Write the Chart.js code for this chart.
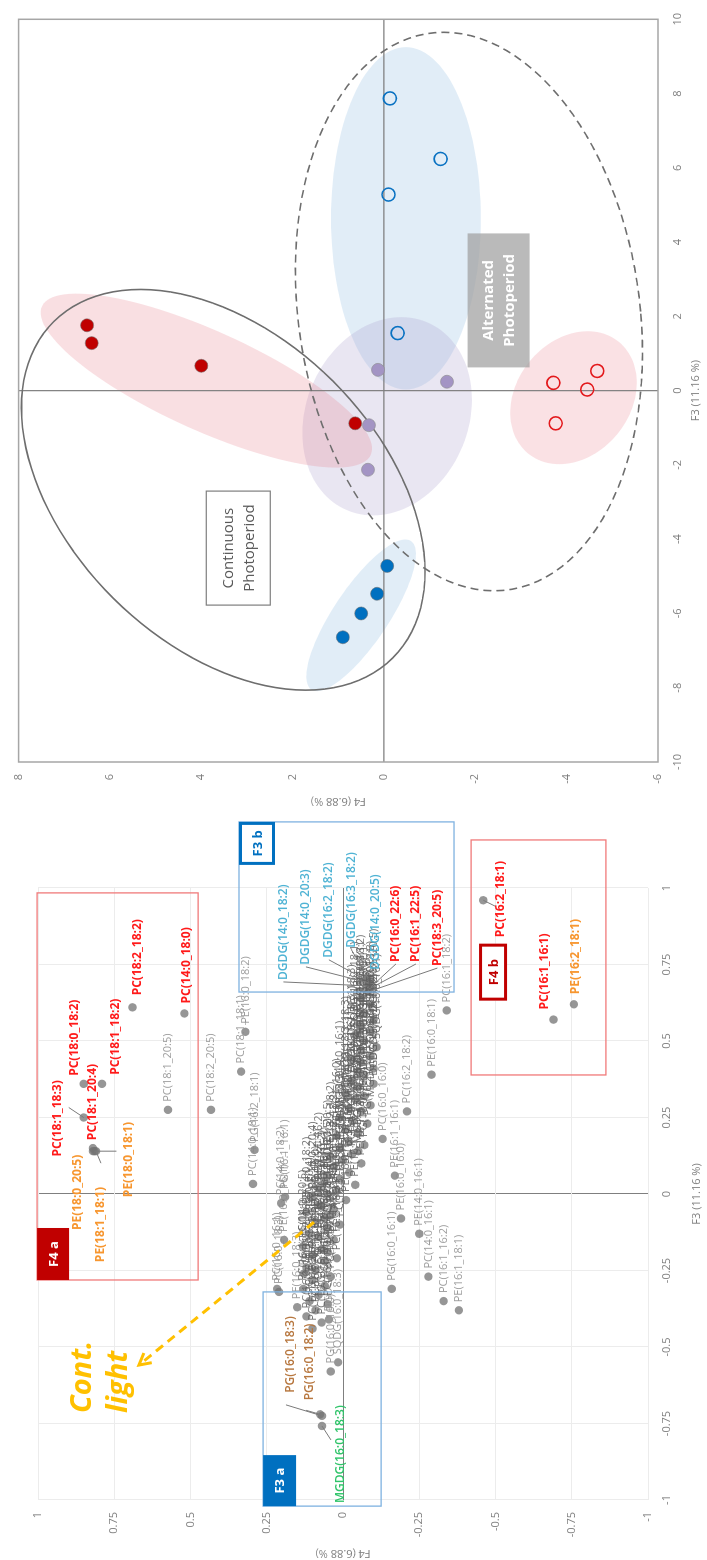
<!DOCTYPE html>
<html>
<head>
<meta charset="utf-8">
<title>PCA F3 / F4</title>
<script src="https://cdn.jsdelivr.net/npm/chart.js@4.4.1/dist/chart.umd.min.js"></script>
<style>
  html, body { margin: 0; padding: 0; background: #fff; }
  body { width: 707px; height: 1560px; overflow: hidden; position: relative; }
  /* the figure is laid out landscape and turned a quarter turn */
  #sheet { position: absolute; left: 0; top: 0; width: 1560px; height: 707px;
           transform-origin: 0 0; transform: translate(0, 1560px) rotate(-90deg); }
  #loadWrap { position: absolute; left: 0; top: 0; width: 740px; height: 707px; }
  #scoreWrap { position: absolute; left: 740px; top: 0; width: 820px; height: 707px; }
</style>
</head>
<body>
<div id="sheet">
  <div id="loadWrap"><canvas id="loadings" width="740" height="707"></canvas></div>
  <div id="scoreWrap"><canvas id="scores" width="820" height="707"></canvas></div>
</div>
<script>
Chart.defaults.font.family = '"Open Sans", "DejaVu Sans", sans-serif';
Chart.defaults.animation = false;

// ---------- observations (scores) ----------
const contRedF3 = [1.76, 1.28, 0.67, -0.88];
const contRedF4 = [6.50, 6.40, 4.00, 0.63];
const purpleF3 = [0.56, 0.24, -0.93, -2.13];
const purpleF4 = [0.13, -1.38, 0.33, 0.35];
const contBlueF3 = [-4.72, -5.47, -6.00, -6.64];
const contBlueF4 = [-0.07, 0.15, 0.50, 0.90];
const altBlueF3 = [7.87, 6.24, 5.28, 1.55];
const altBlueF4 = [-0.13, -1.24, -0.10, -0.30];
const altRedF3 = [0.21, 0.53, 0.03, -0.88];
const altRedF4 = [-3.71, -4.67, -4.45, -3.76];

// group ellipses: centre + two half axes, in (F3, F4) units
const groupCentres = [[4.64, -0.48], [-0.69, -0.07], [-0.19, -4.15], [0.27, 3.89], [-6.05, 0.50]];
const groupAxisU = [[0, -1.64], [0, -1.83], [0, -1.35], [-2.0, -3.6], [2.0, -1.09]];
const groupAxisV = [[-4.61, 0], [2.67, -0.31], [1.79, -0.31], [-1.22, 0.45], [-0.41, -0.50]];
const photoCentres = [[-2.67, 3.52], [2.13, -1.86]];
const photoAxisU = [[-4.53, -3.71], [0, -3.76]];
const photoAxisV = [[-2.93, 2.40], [7.52, 0.55]];

// ---------- variables (loadings) ----------
const lipidNames = [
  'PC(18:1_18:3)','PC(18:0_18:2)','PC(18:1_20:4)','PC(18:1_18:2)','PE(18:0_20:5)','PE(18:1_18:1)','PE(18:0_18:1)',
  'PC(18:2_18:2)','PC(14:0_18:0)','PC(16:2_18:1)','PC(16:1_16:1)','PE(16:2_18:1)',
  'DGDG(14:0_18:2)','DGDG(14:0_20:3)','DGDG(16:2_18:2)','DGDG(16:3_18:2)','DGDG(14:0_20:5)',
  'PC(16:0_22:6)','PC(16:1_22:5)','PC(18:3_20:5)','PG(16:0_18:3)','PG(16:0_18:2)','MGDG(16:0_18:3)',
  'PC(18:1_20:5)','PC(18:2_20:5)','PC(18:1_18:1)','PE(16:0_18:2)','PG(16:2_18:1)','PC(14:0_18:1)',
  'PC(14:0_18:2)','PG(16:1_16:1)','PC(14:0_20:4)','PC(16:0_18:2)','PE(16:0_16:1)','PC(16:0_16:1)',
  'PC(16:0_18:3)','PC(16:2_18:2)','PE(16:0_18:1)','PC(16:1_18:2)','PC(14:0_16:1)','PC(16:1_16:2)',
  'PE(16:1_18:1)','PE(14:0_16:1)','PE(16:1_16:1)','PC(16:0_16:0)','PG(16:0_16:1)','PE(16:0_16:0)',
  'PG(16:0_16:0)','SQDG(16:0_18:3)','DGDG(16:0_18:3)','PE(16:0_18:3)',
  'PC(16:0_16:2)','PC(16:0_16:3)','PC(16:0_18:0)','PC(16:0_18:1)','PC(16:0_20:4)','PC(16:0_20:5)','PC(16:0_22:5)',
  'PC(16:1_16:0)','PC(16:1_18:0)','PC(16:1_18:3)','PC(16:1_20:4)','PC(16:1_20:5)','PC(16:2_16:2)','PC(16:2_18:3)',
  'PC(16:3_18:3)','PC(14:0_16:0)','PC(14:0_18:3)','PC(14:0_20:5)','PC(14:0_22:6)','PC(18:0_18:3)','PC(18:0_20:4)',
  'PC(18:2_18:3)','PC(18:3_18:3)','PE(14:0_16:0)','PE(14:0_18:1)','PE(14:0_18:2)','PE(14:0_20:5)','PE(16:0_16:2)',
  'PE(16:0_18:0)','PE(16:0_20:4)','PE(16:0_20:5)','PE(16:0_22:6)','PE(16:1_16:2)','PE(16:1_18:2)','PE(16:1_18:3)',
  'PE(16:1_20:5)','PE(16:2_16:2)','PE(16:2_18:2)','PE(18:1_18:2)','PE(18:1_20:5)','PE(18:2_18:2)','PG(14:0_16:0)',
  'PG(14:0_18:3)','PG(16:0_16:2)','PG(16:0_18:1)','PG(16:1_16:0)','PG(16:1_18:2)','PG(16:1_18:3)','PG(16:2_16:1)',
  'PG(18:1_18:3)','MGDG(14:0_16:1)','MGDG(16:0_16:1)','MGDG(16:1_16:1)','MGDG(16:1_16:3)','MGDG(16:2_16:3)',
  'MGDG(16:3_18:3)','MGDG(18:3_18:3)','DGDG(14:0_16:1)','DGDG(16:0_16:1)','DGDG(16:1_16:1)','DGDG(16:1_16:3)',
  'DGDG(16:1_18:3)','DGDG(16:2_16:2)','DGDG(16:3_18:3)','DGDG(18:3_18:3)','SQDG(14:0_16:0)','SQDG(16:0_16:0)',
  'SQDG(16:0_16:1)','SQDG(16:1_16:1)','SQDG(16:0_18:1)','DGTS(16:0_18:3)','DGTS(16:1_18:2)','DGTS(20:5_20:5)',
  'LPC(16:0)','LPC(16:1)','LPC(18:1)','LPE(16:0)','LPE(16:1)','LPG(16:0)','MGDG(20:5_16:3)'
];
const loadF3 = [
  0.25, 0.36, 0.14, 0.36, 0.15, 0.14, 0.14,
  0.61, 0.59, 0.96, 0.57, 0.62,
  0.68, 0.69, 0.70, 0.71, 0.70,
  0.68, 0.67, 0.66, -0.725, -0.72, -0.758,
  0.275, 0.275, 0.40, 0.53, 0.144, 0.033,
  -0.03, -0.01, -0.036, -0.26, -0.15, -0.31,
  -0.32, 0.27, 0.39, 0.60, -0.27, -0.35,
  -0.38, -0.13, 0.06, 0.18, -0.31, -0.08,
  -0.58, -0.55, -0.41, -0.37,
  -0.44, -0.42, -0.40, -0.38, -0.36, -0.35, -0.33,
  -0.31, -0.30, -0.28, -0.27, -0.25, -0.24, -0.22,
  -0.21, -0.20, -0.18, -0.17, -0.15, -0.14, -0.13,
  -0.11, -0.10, -0.09, -0.08, -0.06, -0.05, -0.04,
  -0.02, -0.01, 0.00, 0.01, 0.02, 0.03, 0.05,
  0.06, 0.07, 0.09, 0.10, 0.11, 0.12, 0.13,
  0.15, 0.16, 0.17, 0.19, 0.20, 0.21, 0.23,
  0.24, 0.25, 0.27, 0.28, 0.29, 0.31,
  0.32, 0.33, 0.35, 0.36, 0.37, 0.39,
  0.40, 0.41, 0.43, 0.44, 0.45, 0.47,
  0.48, 0.50, 0.52, 0.53, 0.55, 0.57,
  0.59, 0.62, 0.64, -0.07, 0.04, -0.19, 0.14
];
const loadF4 = [
  0.85, 0.85, 0.82, 0.79, 0.82, 0.81, 0.815,
  0.69, 0.52, -0.46, -0.69, -0.757,
  -0.08, -0.085, -0.075, -0.08, -0.09,
  -0.095, -0.085, -0.08, 0.069, 0.075, 0.069,
  0.574, 0.433, 0.334, 0.32, 0.29, 0.295,
  0.203, 0.19, 0.082, 0.128, 0.193, 0.216,
  0.21, -0.21, -0.29, -0.34, -0.28, -0.33,
  -0.38, -0.25, -0.17, -0.13, -0.16, -0.19,
  0.04, 0.016, 0.046, 0.15,
  0.10, 0.07, 0.12, 0.09, 0.05, 0.11, 0.08,
  0.13, 0.06, 0.10, 0.04, 0.09, 0.12, 0.06,
  0.02, 0.10, 0.07, 0.13, 0.03, 0.08, 0.11,
  0.05, 0.01, 0.09, 0.06, 0.12, 0.03, 0.07,
  -0.01, 0.10, 0.05, 0.02, 0.08, -0.04, 0.01,
  0.05, -0.02, 0.03, -0.06, 0.00, 0.04, -0.03,
  0.01, -0.07, -0.02, 0.02, -0.05, -0.01, -0.08,
  -0.03, 0.01, -0.06, -0.02, -0.09, -0.04,
  -0.07, -0.01, -0.05, -0.10, -0.03, -0.07,
  -0.05, -0.10, -0.06, -0.03, -0.09, -0.06,
  -0.11, -0.07, -0.04, -0.09, -0.06, -0.10,
  -0.07, -0.09, -0.06, 0.04, 0.06, 0.05, -0.05
];

// coloured call-outs: colour, label offset from the point (px), optional leader start (px)
const RED = '#ff1a1a', ORANGE = '#f7962f', SKY = '#4fb3d4', BROWN = '#b7773f', GREEN = '#2fc469';
const callouts = {
  'PC(18:1_18:3)': {c: RED, dx: -39, dy: -26, lead: [10, -15]},
  'PC(18:0_18:2)': {c: RED, dx: 8, dy: -9},
  'PC(18:1_20:4)': {c: RED, dx: 11, dy: 0},
  'PC(18:1_18:2)': {c: RED, dx: 9, dy: 14},
  'PE(18:0_20:5)': {c: ORANGE, dx: -82, dy: -15},
  'PE(18:1_18:1)': {c: ORANGE, dx: -111, dy: 5, lead: [-12, 5]},
  'PE(18:0_18:1)': {c: ORANGE, dx: -46, dy: 34, lead: [0, 22]},
  'PC(18:2_18:2)': {c: RED, dx: 12, dy: 5},
  'PC(14:0_18:0)': {c: RED, dx: 10, dy: 2},
  'PC(16:2_18:1)': {c: RED, dx: -37, dy: 17, lead: [-6, 12]},
  'PC(16:1_16:1)': {c: RED, dx: 10, dy: -9},
  'PE(16:2_18:1)': {c: ORANGE, dx: 10, dy: 2},
  'DGDG(14:0_18:2)': {c: SKY, dx: 6, dy: -84, lead: [4, -84]},
  'DGDG(14:0_20:3)': {c: SKY, dx: 18, dy: -63, lead: [16, -63]},
  'DGDG(16:2_18:2)': {c: SKY, dx: 22, dy: -37, lead: [20, -37]},
  'DGDG(16:3_18:2)': {c: SKY, dx: 29, dy: -16, lead: [27, -16]},
  'DGDG(14:0_20:5)': {c: SKY, dx: 10, dy: 5},
  'PC(16:0_22:6)': {c: RED, dx: 24, dy: 24, lead: [22, 24]},
  'PC(16:1_22:5)': {c: RED, dx: 27, dy: 47, lead: [25, 47]},
  'PC(18:3_20:5)': {c: RED, dx: 26, dy: 70, lead: [24, 70]},
  'PG(16:0_18:3)': {c: BROWN, dx: 23, dy: -31, lead: [11, -36]},
  'PG(16:0_18:2)': {c: BROWN, dx: 14, dy: -11, lead: [4, -14]},
  'MGDG(16:0_18:3)': {c: GREEN, dx: -77, dy: 19, lead: [-14, 9]}
};

// highlighted groups on the loadings plot (F3 range, F4 range)
const frames = [
  {name: 'F4 a', f3: [-0.281, 0.984], f4: [0.475, 1.003], line: '#f07a7a', corner: 'tl', w: 52, h: 32, fill: '#c00000', ink: '#fff'},
  {name: 'F4 b', f3: [0.389, 1.157], f4: [-0.862, -0.420], line: '#f07a7a', at: [0.725, -0.492], w: 57, h: 28, fill: '#fff', ink: '#c00000', edge: '#c00000'},
  {name: 'F3 a', f3: [-1.02, -0.32], f4: [-0.125, 0.262], line: '#7fb2e0', corner: 'tl', w: 51, h: 33, fill: '#0070c0', ink: '#fff'},
  {name: 'F3 b', f3: [0.66, 1.216], f4: [-0.364, 0.341], line: '#7fb2e0', corner: 'tr', w: 43, h: 36, fill: '#fff', ink: '#0070c0', edge: '#0070c0'}
];
const lightArrow = {from: [-0.092, 0.095], to: [-0.559, 0.669]};

// ---------- helpers ----------
function traceEllipse(ctx, sx, sy, c, u, v) {
  const cx = sx.getPixelForValue(c[0]), cy = sy.getPixelForValue(c[1]);
  const ux = sx.getPixelForValue(c[0] + u[0]) - cx, uy = sy.getPixelForValue(c[1] + u[1]) - cy;
  const vx = sx.getPixelForValue(c[0] + v[0]) - cx, vy = sy.getPixelForValue(c[1] + v[1]) - cy;
  ctx.beginPath();
  for (let k = 0; k <= 120; k++) {
    const t = k / 120 * Math.PI * 2;
    const px = cx + ux * Math.cos(t) + vx * Math.sin(t);
    const py = cy + uy * Math.cos(t) + vy * Math.sin(t);
    if (k === 0) ctx.moveTo(px, py); else ctx.lineTo(px, py);
  }
  ctx.closePath();
}

function pts(f3, f4) { return f3.map((v, i) => ({x: v, y: f4[i]})); }
const plainTick = v => String(Math.round(v * 100) / 100);

// ---------- scores chart ----------
const groupFills = ['rgba(157,195,230,0.30)', 'rgba(170,160,205,0.26)', 'rgba(232,120,132,0.22)',
                    'rgba(232,120,132,0.24)', 'rgba(157,195,230,0.30)'];

const scoresDecor = {
  id: 'scoresDecor',
  beforeDatasetsDraw(chart) {
    const {ctx, chartArea: a, scales: {x, y}} = chart;
    ctx.save();
    groupCentres.forEach((c, i) => {
      traceEllipse(ctx, x, y, c, groupAxisU[i], groupAxisV[i]);
      ctx.fillStyle = groupFills[i];
      ctx.fill();
    });
    const x0 = x.getPixelForValue(0), y0 = y.getPixelForValue(0);
    ctx.strokeStyle = '#7f7f7f';
    ctx.lineWidth = 1.2;
    ctx.beginPath();
    ctx.moveTo(x0, a.top); ctx.lineTo(x0, a.bottom);
    ctx.moveTo(a.left, y0); ctx.lineTo(a.right, y0);
    ctx.stroke();
    ctx.strokeStyle = '#a6a6a6';
    ctx.lineWidth = 1.5;
    ctx.strokeRect(a.left, a.top, a.right - a.left, a.bottom - a.top);
    // photoperiod envelopes
    ctx.strokeStyle = '#6e6e6e';
    ctx.lineWidth = 1.6;
    photoCentres.forEach((c, i) => {
      ctx.setLineDash(i === 1 ? [8, 5] : []);
      traceEllipse(ctx, x, y, c, photoAxisU[i], photoAxisV[i]);
      ctx.stroke();
    });
    ctx.restore();
  },
  afterDatasetsDraw(chart) {
    const {ctx, scales: {x, y}} = chart;
    ctx.save();
    ctx.textAlign = 'center';
    ctx.textBaseline = 'middle';
    // Continuous label
    let cx = x.getPixelForValue(-4.24), cy = y.getPixelForValue(3.19);
    ctx.fillStyle = '#fff';
    ctx.fillRect(cx - 57, cy - 32, 114, 64);
    ctx.strokeStyle = '#7f7f7f';
    ctx.lineWidth = 1.2;
    ctx.strokeRect(cx - 57, cy - 32, 114, 64);
    ctx.fillStyle = '#595959';
    ctx.font = '15px "Open Sans", sans-serif';
    ctx.fillText('Continuous', cx, cy - 10);
    ctx.fillText('Photoperiod', cx, cy + 11);
    // Alternated label
    cx = x.getPixelForValue(2.43); cy = y.getPixelForValue(-2.51);
    ctx.fillStyle = 'rgba(160,160,160,0.72)';
    ctx.fillRect(cx - 67, cy - 31, 134, 62);
    ctx.fillStyle = '#fff';
    ctx.font = 'bold 15px "Open Sans", sans-serif';
    ctx.fillText('Alternated', cx, cy - 10);
    ctx.fillText('Photoperiod', cx, cy + 11);
    ctx.restore();
  }
};

new Chart(document.getElementById('scores'), {
  type: 'scatter',
  data: {
    datasets: [
      {label: 'Cont. red', data: pts(contRedF3, contRedF4), backgroundColor: '#c00000', borderColor: 'rgba(110,110,110,0.55)', borderWidth: 1, pointRadius: 6.5},
      {label: 'Cont. blue', data: pts(contBlueF3, contBlueF4), backgroundColor: '#0070c0', borderColor: 'rgba(110,110,110,0.55)', borderWidth: 1, pointRadius: 6.5},
      {label: 'Purple', data: pts(purpleF3, purpleF4), backgroundColor: '#a394c4', borderColor: 'rgba(140,140,140,0.6)', borderWidth: 1, pointRadius: 6.5},
      {label: 'Alt. blue', data: pts(altBlueF3, altBlueF4), backgroundColor: 'rgba(255,255,255,0)', borderColor: '#0a72c2', borderWidth: 1.6, pointRadius: 6.5},
      {label: 'Alt. red', data: pts(altRedF3, altRedF4), backgroundColor: 'rgba(255,255,255,0)', borderColor: '#e3191c', borderWidth: 1.6, pointRadius: 6.5}
    ]
  },
  options: {
    responsive: false,
    layout: {padding: {left: 8, right: 13, top: 17, bottom: 0}},
    plugins: {legend: {display: false}, tooltip: {enabled: false}},
    scales: {
      x: {
        type: 'linear', min: -10, max: 10,
        ticks: {stepSize: 2, color: '#7f7f7f', font: {size: 11}, padding: 13, maxRotation: 0},
        grid: {display: false, drawTicks: false},
        border: {display: false},
        title: {display: true, text: 'F3 (11.16 %)', color: '#7f7f7f', font: {size: 11}, padding: {top: 0, bottom: 5}},
        afterFit(s) { s.height = 49; }
      },
      y: {
        type: 'linear', min: -6, max: 8,
        ticks: {stepSize: 2, color: '#7f7f7f', font: {size: 11}, padding: 12},
        grid: {display: false, drawTicks: false},
        border: {display: false},
        title: {display: true, text: 'F4 (6.88 %)', color: '#7f7f7f', font: {size: 11}, padding: {top: 4, bottom: 0}},
        afterFit(s) { s.width = 50; }
      }
    }
  },
  plugins: [scoresDecor]
});

// ---------- loadings chart ----------
const loadingsDecor = {
  id: 'loadingsDecor',
  afterDatasetsDraw(chart) {
    const {ctx, scales: {x, y}} = chart;
    const px = v => x.getPixelForValue(v), py = v => y.getPixelForValue(v);
    ctx.save();

    // labels (grey ones first, coloured call-outs on top)
    ctx.textBaseline = 'middle';
    ctx.textAlign = 'left';
    ctx.font = '11px "Open Sans", sans-serif';
    lipidNames.forEach((n, i) => {
      if (callouts[n]) return;
      ctx.fillStyle = i >= 51 ? 'rgba(95,95,95,0.85)' : 'rgba(140,140,140,0.85)';
      ctx.fillText(n, px(loadF3[i]) + 8, py(loadF4[i]));
    });
    lipidNames.forEach((n, i) => {
      const c = callouts[n];
      if (!c) return;
      const X = px(loadF3[i]), Y = py(loadF4[i]);
      if (c.lead) {
        ctx.strokeStyle = '#7a7a7a';
        ctx.lineWidth = 1;
        ctx.beginPath();
        ctx.moveTo(X + c.lead[0], Y + c.lead[1]);
        ctx.lineTo(X, Y);
        ctx.stroke();
      }
      const heavy = c.c === RED || c.c === ORANGE;
      ctx.font = (heavy ? 'bold ' : '600 ') + '12px "Open Sans", sans-serif';
      ctx.fillStyle = c.c;
      ctx.fillText(n, X + c.dx, Y + c.dy);
    });

    // group frames and tabs
    frames.forEach(f => {
      const l = px(f.f3[0]), r = px(f.f3[1]), t = py(f.f4[1]), b = py(f.f4[0]);
      ctx.strokeStyle = f.line;
      ctx.lineWidth = 1.3;
      ctx.strokeRect(l, t, r - l, b - t);
      let tx, ty;
      if (f.at) { tx = px(f.at[0]) - f.w / 2; ty = py(f.at[1]) - f.h / 2; }
      else if (f.corner === 'tr') { tx = r - f.w; ty = t; }
      else { tx = l; ty = t; }
      ctx.fillStyle = f.fill;
      ctx.fillRect(tx, ty, f.w, f.h);
      if (f.edge) {
        ctx.strokeStyle = f.edge;
        ctx.lineWidth = 3;
        ctx.strokeRect(tx + 1.5, ty + 1.5, f.w - 3, f.h - 3);
      }
      ctx.fillStyle = f.ink;
      ctx.font = 'bold 13px "Open Sans", sans-serif';
      ctx.textAlign = 'center';
      ctx.fillText(f.name, tx + f.w / 2, ty + f.h / 2 + 1);
      ctx.textAlign = 'left';
    });

    // continuous-light arrow
    const ax0 = px(lightArrow.from[0]), ay0 = py(lightArrow.from[1]);
    const ax1 = px(lightArrow.to[0]), ay1 = py(lightArrow.to[1]);
    ctx.strokeStyle = '#ffc000';
    ctx.lineWidth = 3;
    ctx.setLineDash([9, 6]);
    ctx.beginPath(); ctx.moveTo(ax0, ay0); ctx.lineTo(ax1, ay1); ctx.stroke();
    ctx.setLineDash([]);
    const ang = Math.atan2(ay1 - ay0, ax1 - ax0);
    ctx.beginPath();
    ctx.moveTo(ax1 - 13 * Math.cos(ang - 0.5), ay1 - 13 * Math.sin(ang - 0.5));
    ctx.lineTo(ax1, ay1);
    ctx.lineTo(ax1 - 13 * Math.cos(ang + 0.5), ay1 - 13 * Math.sin(ang + 0.5));
    ctx.stroke();
    ctx.fillStyle = '#ffc000';
    ctx.font = 'italic bold 29px "Open Sans", sans-serif';
    ctx.fillText('Cont.', px(-0.716), py(0.852));
    ctx.fillText('light', px(-0.716), py(0.734));
    ctx.restore();
  }
};

const zeroGrid = c => (c.tick && c.tick.value === 0 ? '#7f7f7f' : '#ececec');

new Chart(document.getElementById('loadings'), {
  type: 'scatter',
  data: {
    datasets: [{
      label: 'Lipids',
      data: pts(loadF3, loadF4),
      backgroundColor: 'rgba(115,115,115,0.75)',
      borderWidth: 0,
      pointRadius: 4.2
    }]
  },
  options: {
    responsive: false,
    layout: {padding: {left: 0, right: 68, top: 38, bottom: 0}},
    plugins: {legend: {display: false}, tooltip: {enabled: false}},
    scales: {
      x: {
        type: 'linear', min: -1, max: 1,
        ticks: {stepSize: 0.25, color: '#7f7f7f', font: {size: 11}, padding: 12, maxRotation: 0, callback: plainTick},
        grid: {color: zeroGrid, drawTicks: false},
        border: {display: false},
        title: {display: true, text: 'F3 (11.16 %)', color: '#7f7f7f', font: {size: 11}, padding: {top: 0, bottom: 4}},
        afterFit(s) { s.height = 59; }
      },
      y: {
        type: 'linear', min: -1, max: 1,
        ticks: {stepSize: 0.25, color: '#7f7f7f', font: {size: 11}, padding: 12, callback: plainTick},
        grid: {color: zeroGrid, drawTicks: false},
        border: {display: false},
        title: {display: true, text: 'F4 (6.88 %)', color: '#7f7f7f', font: {size: 11}, padding: {top: 0, bottom: 0}},
        afterFit(s) { s.width = 60; }
      }
    }
  },
  plugins: [loadingsDecor]
});
</script>
</body>
</html>
